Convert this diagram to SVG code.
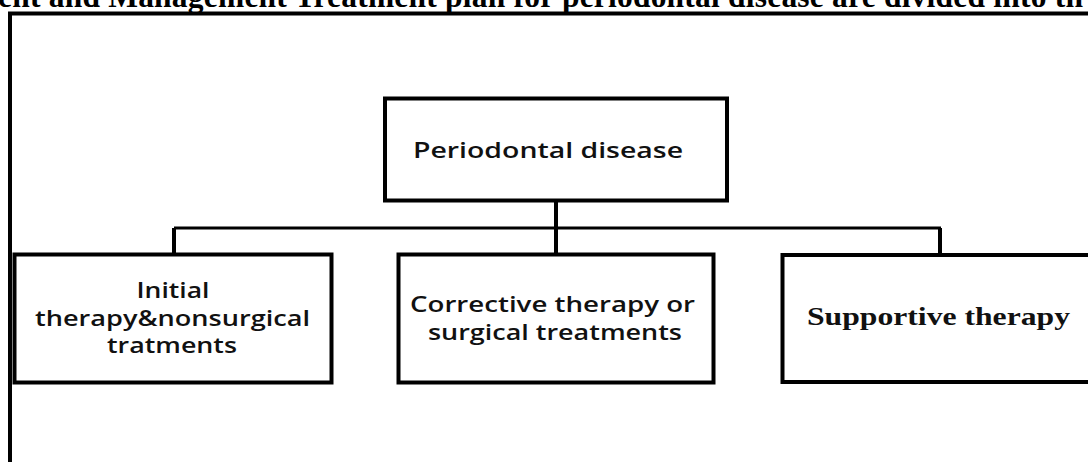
<svg xmlns="http://www.w3.org/2000/svg" width="1088" height="462" viewBox="0 0 1088 462">
<style>
.box{fill:#fff;stroke:#000;stroke-width:4}
.conn{fill:none;stroke:#000;stroke-width:4}
.frame{fill:none;stroke:#000;stroke-width:4}
.sans{font-family:"Open Sans","Liberation Sans",sans-serif;font-size:21px;font-weight:600;fill:#111;text-anchor:middle}
.title{font-family:"Liberation Serif","Times New Roman",serif;font-size:31.5px;font-weight:bold;fill:#000}
.serifb{font-family:"Liberation Serif","Times New Roman",serif;font-size:25px;font-weight:bold;fill:#111}
</style>
<rect width="1088" height="462" fill="#fff"/>
<text class="title" x="-2" y="7" textLength="1085" lengthAdjust="spacing">ent and Management Treatment plan for periodontal disease are divided into th</text>
<path class="frame" d="M10,470 L10,13.5 L1095,13.5"/>
<g id="connectors">
<path class="conn" d="M556,201 L556,255"/>
<path class="conn" d="M174,228 L941,228" style="stroke-width:3"/>
<path class="conn" d="M174,228 L174,255"/>
<path class="conn" d="M940,228 L940,256"/>
</g>
<g id="periodontal-disease">
<rect class="box" x="385" y="98.5" width="342" height="102"/>
<text class="sans" x="548" y="158" textLength="270" lengthAdjust="spacingAndGlyphs">Periodontal disease</text>
</g>
<g id="initial-therapy">
<rect class="box" x="14.5" y="254.5" width="317" height="128"/>
<text class="sans" x="173" y="298" textLength="73" lengthAdjust="spacingAndGlyphs">Initial</text>
<text class="sans" x="172.5" y="326" textLength="275" lengthAdjust="spacingAndGlyphs">therapy&amp;nonsurgical</text>
<text class="sans" x="172" y="353" textLength="130" lengthAdjust="spacingAndGlyphs">tratments</text>
</g>
<g id="corrective-therapy">
<rect class="box" x="398.5" y="254.5" width="315" height="128"/>
<text class="sans" x="552.5" y="312" textLength="285" lengthAdjust="spacingAndGlyphs">Corrective therapy or</text>
<text class="sans" x="555" y="340" textLength="254" lengthAdjust="spacingAndGlyphs">surgical treatments</text>
</g>
<g id="supportive-therapy">
<rect class="box" x="782.5" y="255" width="320" height="127"/>
<text class="serifb" x="807" y="325" textLength="263" lengthAdjust="spacingAndGlyphs">Supportive therapy</text>
</g>
</svg>
